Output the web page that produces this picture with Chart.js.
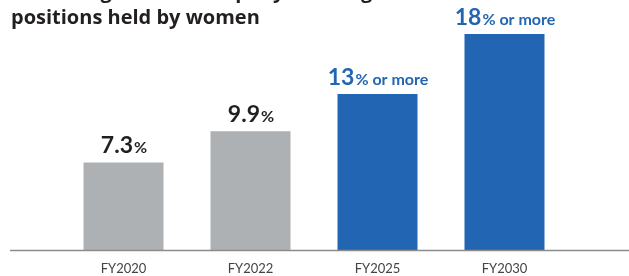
<!DOCTYPE html>
<html>
<head>
<meta charset="utf-8">
<script src="https://cdn.jsdelivr.net/npm/chart.js@4/dist/chart.umd.min.js"></script>
<style>
  html, body { margin: 0; padding: 0; background: #fff; }
  #wrap { position: relative; width: 629px; height: 276px; overflow: hidden; }
  #title {
    position: absolute; left: 11px; top: -22px;
    font-family: "Open Sans", sans-serif; font-weight: 700; font-size: 20px;
    line-height: 26px; color: #231f20; white-space: nowrap;
  }
  canvas { position: absolute; left: 0; top: 0; }
</style>
</head>
<body>
<div id="wrap">
  <canvas id="grafico" width="629" height="276"></canvas>
  <div id="title">Percentage of the company’s managerial<br>positions held by women</div>
</div>
<script>
const categories = ["FY2020", "FY2022", "FY2025", "FY2030"];
const values = [7.3, 9.9, 13, 18];
const valueLabels = ["7.3", "9.9", "13", "18"];
const suffixes = ["%", "%", "% or more", "% or more"];
const barColors = ["#adb1b4", "#adb1b4", "#2266b3", "#2266b3"];
const labelColors = ["#231f20", "#231f20", "#2266b3", "#2266b3"];

// baseline across the whole width
const baseLine = {
  id: "baseLine",
  afterDatasetsDraw(chart) {
    const ctx = chart.ctx;
    const y = Math.round(chart.scales.y.getPixelForValue(0)) + 0.5;
    ctx.save();
    ctx.strokeStyle = "#8c8c8c";
    ctx.lineWidth = 1.5;
    ctx.beginPath();
    ctx.moveTo(10, y);
    ctx.lineTo(chart.width, y);
    ctx.stroke();
    ctx.restore();
  },
};

// value labels: big number + smaller suffix
const barLabels = {
  id: "barLabels",
  afterDatasetsDraw(chart) {
    const ctx = chart.ctx;
    const meta = chart.getDatasetMeta(0);
    ctx.save();
    ctx.textBaseline = "alphabetic";
    meta.data.forEach((bar, i) => {
      const big = "700 23px Lato, sans-serif";
      const small = "700 16px Lato, sans-serif";
      ctx.font = big;
      const w1 = ctx.measureText(valueLabels[i]).width;
      ctx.font = small;
      const w2 = ctx.measureText(suffixes[i]).width;
      const x0 = bar.x - (w1 + w2) / 2;
      const y = bar.y - 9;
      ctx.fillStyle = labelColors[i];
      ctx.textAlign = "left";
      ctx.font = big;
      ctx.fillText(valueLabels[i], x0, y);
      ctx.font = small;
      ctx.fillText(suffixes[i], x0 + w1 + 1, y);
    });
    ctx.restore();
  },
};

new Chart(document.querySelector("#grafico"), {
  type: "bar",
  data: {
    labels: categories,
    datasets: [
      {
        data: values,
        backgroundColor: barColors,
        categoryPercentage: 1,
        barPercentage: 0.63,
      },
    ],
  },
  options: {
    responsive: false,
    animation: false,
    layout: { padding: { left: 60, right: 61, top: 10, bottom: 0 } },
    plugins: { legend: { display: false }, tooltip: { enabled: false } },
    scales: {
      x: {
        grid: { display: false, drawTicks: false },
        border: { display: false },
        ticks: {
          padding: 11,
          color: "#444",
          font: { family: "Lato, sans-serif", size: 13 },
        },
        afterFit(scale) {
          scale.height = 26;
        },
      },
      y: { display: false, min: 0, max: 20 },
    },
  },
  plugins: [baseLine, barLabels],
});
</script>
</body>
</html>
